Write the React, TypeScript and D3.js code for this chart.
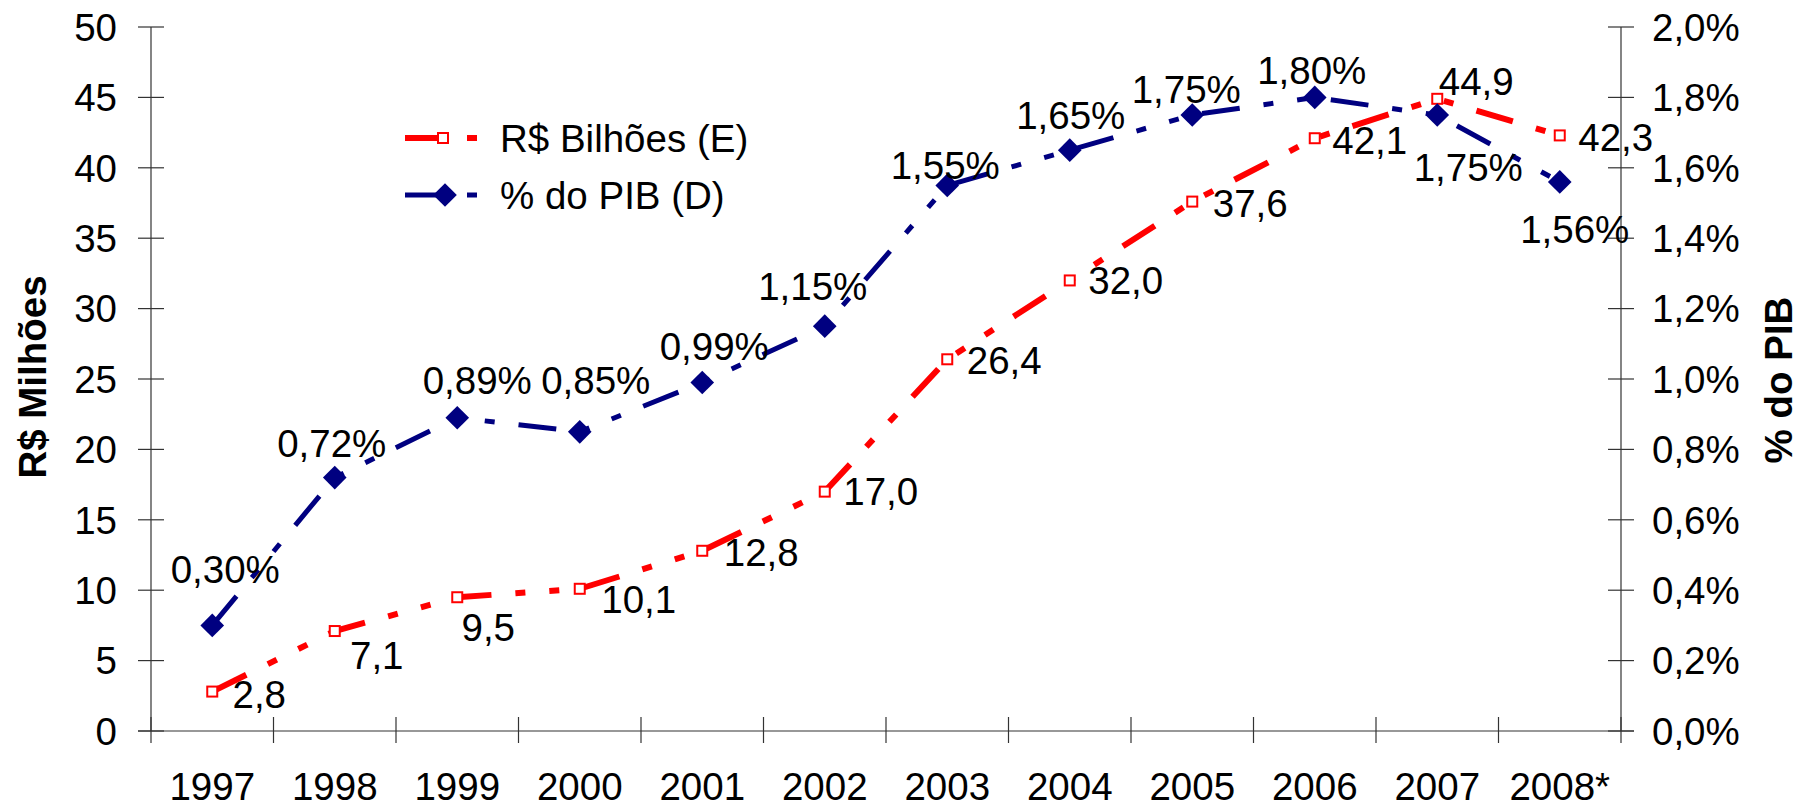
import React from "react";
import * as d3 from "d3";

const years = ["1997", "1998", "1999", "2000", "2001", "2002", "2003", "2004", "2005", "2006", "2007", "2008*"];
const reaisBilhoes = [2.8, 7.1, 9.5, 10.1, 12.8, 17.0, 26.4, 32.0, 37.6, 42.1, 44.9, 42.3];
const pctPib = [0.30, 0.72, 0.89, 0.85, 0.99, 1.15, 1.55, 1.65, 1.75, 1.80, 1.75, 1.56];
const leftTicks = [0, 5, 10, 15, 20, 25, 30, 35, 40, 45, 50];
const rightTicks = [0, 0.2, 0.4, 0.6, 0.8, 1.0, 1.2, 1.4, 1.6, 1.8, 2.0];
const seriesNames = ["R$ Bilhões (E)", "% do PIB (D)"];
const leftTitle = "R$ Milhões";
const rightTitle = "% do PIB";

// label placement (layout) relative to each point, in px
const redLabelOffsets: [number, number][] = [
  [47, 3], [42, 24], [31, 30], [59, 10], [59, 1], [56, 0],
  [57, 1], [56, 0], [58, 2], [55, 2], [39, -18], [56, 2],
];
const blueLabelOffsets: [number, number][] = [
  [13, -56], [-3, -34], [20, -38], [16, -52], [12, -36], [-12, -40],
  [-2, -20], [1, -35], [-6, -26], [-3, -27], [31, 52], [15, 47],
];

const W = 1799;
const H = 808;
const L = 151;
const R = 1621;
const T = 27;
const B = 731;
const FS = 38.5;
const FONT = "'Liberation Sans', Arial, sans-serif";
const RED = "#FF0000";
const NAVY = "#000080";
const DASH = "38 24 10 24 10 24";
const AX = "#333";
const mid = FS * 0.358;

const comma = (s: string) => s.replace(".", ",");

export default function App() {
  const x = d3.scaleBand<string>().domain(years).range([L, R]).padding(0);
  const bw = x.bandwidth();
  const cx = (i: number) => (x(years[i]) as number) + bw / 2;
  const yL = d3.scaleLinear().domain([0, 50]).range([B, T]);
  const yR = d3.scaleLinear().domain([0, 2.0]).range([B, T]);

  const redLine = d3
    .line<number>()
    .x((_, i) => cx(i))
    .y((d) => yL(d))(reaisBilhoes) as string;
  const blueLine = d3
    .line<number>()
    .x((_, i) => cx(i))
    .y((d) => yR(d))(pctPib) as string;

  const diamond = d3.symbol().type(d3.symbolSquare).size(280)() as string;

  const boundaries = d3.range(years.length + 1).map((k) => L + k * bw);

  return (
    <svg
      width={W}
      height={H}
      style={{ position: "absolute", left: 0, top: 0, display: "block", background: "#fff" }}
      fontFamily={FONT}
    >
      <rect x={0} y={0} width={W} height={H} fill="#fff" />

      {/* left axis */}
      <line x1={L} x2={L} y1={T} y2={B} stroke={AX} strokeWidth={1.2} />
      {leftTicks.map((t) => (
        <g key={"l" + t}>
          <line x1={L - 13} x2={L + 13} y1={yL(t)} y2={yL(t)} stroke={AX} strokeWidth={1.2} />
          <text x={117} y={yL(t) + mid} textAnchor="end" fontSize={FS} fill="#000">
            {t}
          </text>
        </g>
      ))}

      {/* right axis */}
      <line x1={R} x2={R} y1={T} y2={B} stroke={AX} strokeWidth={1.2} />
      {rightTicks.map((t) => (
        <g key={"r" + t}>
          <line x1={R - 13} x2={R + 13} y1={yR(t)} y2={yR(t)} stroke={AX} strokeWidth={1.2} />
          <text x={1652} y={yR(t) + mid} textAnchor="start" fontSize={FS} fill="#000">
            {comma(t.toFixed(1)) + "%"}
          </text>
        </g>
      ))}

      {/* x axis */}
      <line x1={L - 13} x2={R + 13} y1={B} y2={B} stroke={AX} strokeWidth={1.2} />
      {boundaries.map((bx, k) => (
        <line key={"xb" + k} x1={bx} x2={bx} y1={B - 14} y2={B + 12} stroke={AX} strokeWidth={1.2} />
      ))}
      {years.map((yr, i) => (
        <text key={"xl" + yr} x={cx(i)} y={800} textAnchor="middle" fontSize={FS} fill="#000">
          {yr}
        </text>
      ))}

      {/* axis titles */}
      <text
        transform={`translate(${46},${377}) rotate(-90)`}
        textAnchor="middle"
        fontSize={FS}
        fontWeight="bold"
        fill="#000"
      >
        {leftTitle}
      </text>
      <text
        transform={`translate(${1792},${380}) rotate(-90)`}
        textAnchor="middle"
        fontSize={FS}
        fontWeight="bold"
        fill="#000"
      >
        {rightTitle}
      </text>

      {/* red series */}
      <path d={redLine} fill="none" stroke={RED} strokeWidth={6} strokeDasharray={DASH} strokeLinecap="butt" />
      {reaisBilhoes.map((v, i) => (
        <rect key={"rm" + i} x={cx(i) - 5} y={yL(v) - 5} width={10} height={10} fill="#fff" stroke={RED} strokeWidth={2} />
      ))}

      {/* blue series */}
      <path d={blueLine} fill="none" stroke={NAVY} strokeWidth={5} strokeDasharray={DASH} strokeLinecap="butt" />
      {pctPib.map((v, i) => (
        <path key={"bm" + i} d={diamond} transform={`translate(${cx(i)},${yR(v)}) rotate(45)`} fill={NAVY} />
      ))}

      {/* data labels */}
      {reaisBilhoes.map((v, i) => (
        <text
          key={"rl" + i}
          x={cx(i) + redLabelOffsets[i][0]}
          y={yL(v) + redLabelOffsets[i][1] + mid}
          textAnchor="middle"
          fontSize={FS}
          fill="#000"
        >
          {comma(v.toFixed(1))}
        </text>
      ))}
      {pctPib.map((v, i) => (
        <text
          key={"bl" + i}
          x={cx(i) + blueLabelOffsets[i][0]}
          y={yR(v) + blueLabelOffsets[i][1] + mid}
          textAnchor="middle"
          fontSize={FS}
          fill="#000"
        >
          {comma(v.toFixed(2)) + "%"}
        </text>
      ))}

      {/* legend */}
      <g>
        <line x1={405} x2={477} y1={138} y2={138} stroke={RED} strokeWidth={6} strokeDasharray={DASH} />
        <rect x={443 - 5} y={138 - 5} width={10} height={10} fill="#fff" stroke={RED} strokeWidth={2} />
        <text x={500} y={138 + mid} fontSize={FS} fill="#000">
          {seriesNames[0]}
        </text>
        <line x1={405} x2={477} y1={195} y2={195} stroke={NAVY} strokeWidth={5} strokeDasharray={DASH} />
        <path d={diamond} transform={`translate(445,195) rotate(45)`} fill={NAVY} />
        <text x={500} y={195 + mid} fontSize={FS} fill="#000">
          {seriesNames[1]}
        </text>
      </g>
    </svg>
  );
}
